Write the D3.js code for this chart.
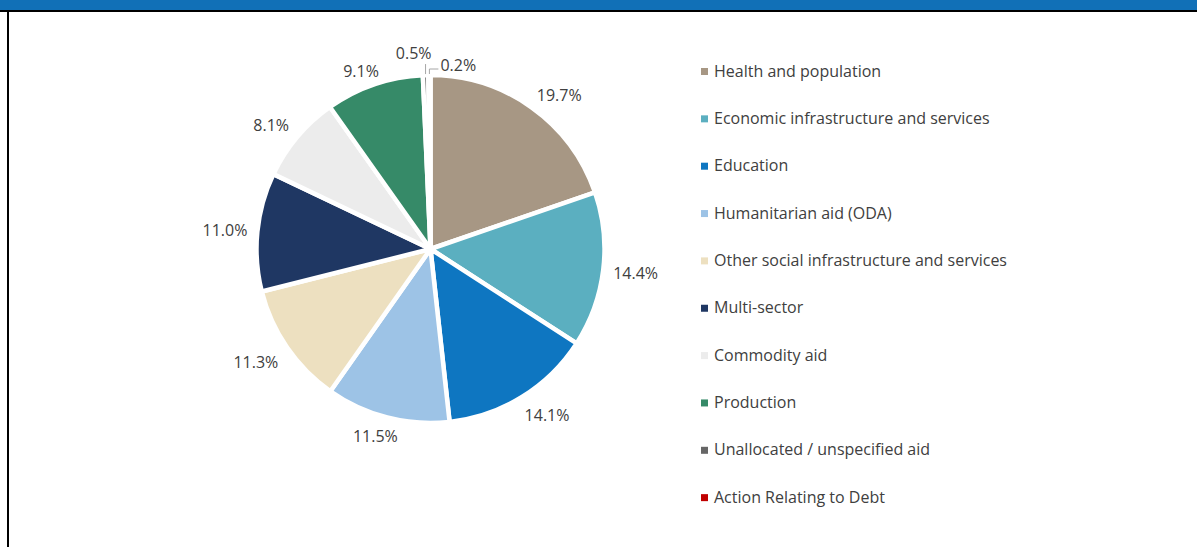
<!DOCTYPE html>
<html>
<head>
<meta charset="utf-8">
<script src="https://cdn.jsdelivr.net/npm/d3@7"></script>
<style>
  html, body { margin: 0; padding: 0; background: #ffffff; }
  svg { display: block; }
  text { font-family: "Open Sans", "Noto Sans", sans-serif; }
</style>
</head>
<body>
<svg id="chart" width="1197" height="547"></svg>
<script>
// Sector shares of aid (%)
const categories = [
  "Health and population",
  "Economic infrastructure and services",
  "Education",
  "Humanitarian aid (ODA)",
  "Other social infrastructure and services",
  "Multi-sector",
  "Commodity aid",
  "Production",
  "Unallocated / unspecified aid",
  "Action Relating to Debt"
];
const shares = [19.7, 14.4, 14.1, 11.5, 11.3, 11.0, 8.1, 9.1, 0.5, 0.2];
const colors = [
  "#a79784", "#5bafc0", "#0e76c1", "#9dc3e6", "#ede0c0",
  "#1f3763", "#ececec", "#368a68", "#666666", "#c00000"
];

const data = categories.map((c, i) => ({ name: c, value: shares[i], color: colors[i] }));

const svg = d3.select("#chart");
const W = 1197, H = 547;

// Frame: blue header band, rule beneath it, left border
svg.append("rect").attr("x", 0).attr("y", 0).attr("width", W).attr("height", 10).attr("fill", "#1170b7");
svg.append("rect").attr("x", 0).attr("y", 10).attr("width", W).attr("height", 2).attr("fill", "#000000");
svg.append("rect").attr("x", 7).attr("y", 10).attr("width", 2).attr("height", H - 10).attr("fill", "#000000");

// Pie
const cx = 430.5, cy = 249, R = 174;
const pie = d3.pie().value(d => d.value).sort(null);
const arc = d3.arc().innerRadius(0).outerRadius(R);
const arcs = pie(data);

const g = svg.append("g").attr("transform", `translate(${cx},${cy})`);
g.selectAll("path.slice")
  .data(arcs)
  .join("path")
  .attr("class", "slice")
  .attr("d", arc)
  .attr("fill", d => d.data.color)
  .attr("stroke", "#ffffff")
  .attr("stroke-width", 4.5)
  .attr("stroke-linejoin", "round");

// Data labels, placed just outside each slice
const fmt = d => d.toFixed(1) + "%";
const labelColor = "#404040";
const labelSize = 16;
const clamp = v => Math.max(-1, Math.min(1, v));
const placed = [];

arcs.forEach(a => {
  const th = (a.startAngle + a.endAngle) / 2;
  const s = Math.sin(th), c = -Math.cos(th);
  const t = g.append("text")
    .attr("fill", labelColor)
    .attr("font-size", labelSize)
    .attr("dominant-baseline", "central")
    .attr("text-anchor", "middle")
    .text(fmt(a.data.value));
  const tw = t.node().getComputedTextLength();

  if (a.data.value >= 1) {
    const LR = R + 7;
    const hw = tw / 2 + 3;
    const hh = c < 0 ? 7 : 12;
    const x = LR * s + hw * clamp(1.6 * s);
    const y = LR * c + hh * clamp(1.6 * c);
    t.attr("x", x).attr("y", y);
    placed.push({ x0: x - tw / 2, x1: x + tw / 2 });
  } else {
    // Thin slices: short leader line out of the arc, label above or beside it
    const p0 = [(R + 1) * s, (R + 1) * c];
    const prev = placed.length ? placed[placed.length - 1] : null;
    if (!prev || !prev.small) {
      const p1 = [p0[0], p0[1] - 10];
      g.append("path")
        .attr("d", d3.line()([p0, p1]))
        .attr("fill", "none").attr("stroke", "#a6a6a6").attr("stroke-width", 1);
      t.attr("text-anchor", "end").attr("dominant-baseline", "auto")
        .attr("x", p1[0] + 6).attr("y", p1[1] - 5);
      placed.push({ small: true, x0: p1[0] + 6 - tw, x1: p1[0] + 6 });
    } else {
      const p1 = [p0[0], p0[1] - 5];
      const p2 = [p1[0] + 9, p1[1]];
      g.append("path")
        .attr("d", d3.line()([p0, p1, p2]))
        .attr("fill", "none").attr("stroke", "#a6a6a6").attr("stroke-width", 1);
      t.attr("text-anchor", "start").attr("x", p2[0] + 2).attr("y", p2[1] - 4);
      placed.push({ small: true, x0: p2[0] + 2, x1: p2[0] + 2 + tw });
    }
  }
});

// Legend
const legX = 701, legY = 68, legStep = 47.35, sq = 7;
const leg = svg.append("g");
data.forEach((d, i) => {
  const y = legY + i * legStep;
  leg.append("rect").attr("x", legX).attr("y", y).attr("width", sq).attr("height", sq).attr("fill", d.color);
  leg.append("text")
    .attr("x", legX + 13)
    .attr("y", y + sq / 2 - 1)
    .attr("dominant-baseline", "central")
    .attr("font-size", 16)
    .attr("fill", labelColor)
    .text(d.name);
});
</script>
</body>
</html>
